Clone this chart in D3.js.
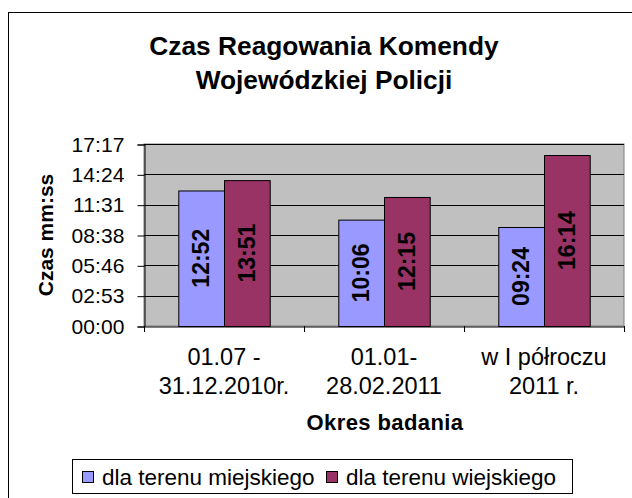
<!DOCTYPE html>
<html>
<head>
<meta charset="utf-8">
<script src="https://cdn.jsdelivr.net/npm/d3@7/dist/d3.min.js"></script>
<style>
  body { margin: 0; background: #fff; }
  text { font-family: "Liberation Sans", Arial, sans-serif; fill: #000; }
</style>
</head>
<body>
<svg id="canvas" width="632" height="498"></svg>
<script>
let titleLines = ['Czas Reagowania Komendy', 'Wojewódzkiej Policji']
let categories = ['01.07 -|31.12.2010r.', '01.01-|28.02.2011', 'w I półroczu|2011 r.']
let seriesNames = ['dla terenu miejskiego', 'dla terenu wiejskiego']
let urbanTimes = ['12:52', '10:06', '09:24']
let ruralTimes = ['13:51', '12:15', '16:14']
// excel stores time as fraction of a day, major unit 0.002
let yTickValues = [0, 0.002, 0.004, 0.006, 0.008, 0.010, 0.012]
let colors = ['#9999ff', '#993366']

let toDays = (s) => {
  let p = s.split(':')
  return (+p[0] * 60 + +p[1]) / 86400
}
let fmt = (d) => {
  let s = Math.round(d * 86400)
  let mm = Math.floor(s / 60), ss = s % 60
  return String(mm).padStart(2, '0') + ':' + String(ss).padStart(2, '0')
}

let rows = categories.map((c, i) => ({
  cat: c,
  values: [urbanTimes[i], ruralTimes[i]]
}))

let svg = d3.select('#canvas')
let plotLeft = 144, plotRight = 624, plotTop = 144, plotBottom = 326

// outer chart border
svg.append('rect')
  .attr('x', 8.5).attr('y', 12.5)
  .attr('width', 700).attr('height', 600)
  .attr('fill', 'none').attr('stroke', '#000')

// title
svg.append('text')
  .attr('x', 324).attr('text-anchor', 'middle')
  .style('font-size', '26.3px').style('font-weight', 'bold')
  .selectAll('tspan')
  .data(titleLines)
  .enter()
  .append('tspan')
  .attr('x', 324)
  .attr('y', (d, i) => 55 + i * 33.5)
  .text(d => d)

let x0 = d3.scaleBand().domain(categories).range([plotLeft, plotRight]).padding(0)
let x1 = d3.scaleBand().domain(seriesNames).range([0, x0.bandwidth()]).paddingInner(0).paddingOuter(0.75)
let y = d3.scaleLinear().domain([0, 0.012]).range([plotBottom, plotTop])

// plot area
svg.append('rect')
  .attr('x', plotLeft).attr('y', plotTop)
  .attr('width', plotRight - plotLeft).attr('height', plotBottom - plotTop)
  .attr('fill', '#c0c0c0').attr('stroke', '#808080')

// gridlines
svg.append('g')
  .selectAll('line')
  .data(yTickValues.slice(1))
  .enter()
  .append('line')
  .attr('x1', plotLeft).attr('x2', plotRight)
  .attr('y1', d => Math.round(y(d)) + 0.5)
  .attr('y2', d => Math.round(y(d)) + 0.5)
  .attr('stroke', '#000')

// y axis
let yAxis = svg.append('g')
  .attr('transform', 'translate(' + (plotLeft + 0.5) + ',0.5)')
  .call(d3.axisLeft(y).tickValues(yTickValues).tickFormat(fmt).tickSize(7).tickPadding(13))
yAxis.select('.domain').attr('stroke', '#000')
yAxis.selectAll('.tick line').attr('stroke', '#000')
yAxis.selectAll('.tick text')
  .style('font-size', '21px').style('font-family', '"Liberation Sans", Arial, sans-serif')
  .attr('fill', '#000').style('letter-spacing', '0.1px')

// x axis
let xAxis = svg.append('g')
  .attr('transform', 'translate(0.5,' + (plotBottom + 0.5) + ')')
  .call(d3.axisBottom(x0).tickSize(0).tickFormat(''))
xAxis.select('.domain').attr('stroke', '#000')
svg.append('g')
  .selectAll('line')
  .data(d3.range(categories.length + 1))
  .enter()
  .append('line')
  .attr('x1', d => plotLeft + d * x0.bandwidth() + 0.5)
  .attr('x2', d => plotLeft + d * x0.bandwidth() + 0.5)
  .attr('y1', plotBottom).attr('y2', plotBottom + 6)
  .attr('stroke', '#000')

// category labels, two lines each
svg.append('g')
  .selectAll('text')
  .data(categories)
  .enter()
  .append('text')
  .attr('text-anchor', 'middle')
  .style('font-size', '23.5px')
  .each(function (d) {
    let cx = x0(d) + x0.bandwidth() / 2
    d3.select(this).selectAll('tspan')
      .data(d.split('|'))
      .enter()
      .append('tspan')
      .attr('x', cx)
      .attr('y', (t, i) => 365 + i * 28.5)
      .text(t => t)
  })

// bars
let groups = svg.append('g')
  .selectAll('g')
  .data(rows)
  .enter()
  .append('g')
  .attr('transform', d => 'translate(' + x0(d.cat) + ',0)')

groups.selectAll('rect')
  .data(d => d.values.map((v, i) => ({ name: seriesNames[i], v: v, i: i })))
  .enter()
  .append('rect')
  .attr('x', d => x1(d.name) + 0.5)
  .attr('y', d => y(toDays(d.v)) + 0.5)
  .attr('width', x1.bandwidth())
  .attr('height', d => plotBottom - y(toDays(d.v)))
  .attr('fill', d => colors[d.i])
  .attr('stroke', '#000')

// data labels, rotated inside bars
groups.selectAll('text')
  .data(d => d.values.map((v, i) => ({ name: seriesNames[i], v: v, i: i })))
  .enter()
  .append('text')
  .attr('transform', d => {
    let cx = x1(d.name) + x1.bandwidth() / 2
    let cy = (y(toDays(d.v)) + plotBottom) / 2
    return 'translate(' + cx + ',' + cy + ') rotate(-90)'
  })
  .attr('text-anchor', 'middle')
  .attr('dy', '0.36em')
  .style('font-size', '23px').style('font-weight', 'bold')
  .text(d => d.v)

// axis titles
svg.append('text')
  .attr('transform', 'translate(53,235) rotate(-90)')
  .attr('text-anchor', 'middle')
  .style('font-size', '21px').style('font-weight', 'bold')
  .text('Czas mm:ss')

svg.append('text')
  .attr('x', 385).attr('y', 430)
  .attr('text-anchor', 'middle')
  .style('font-size', '22px').style('font-weight', 'bold')
  .style('letter-spacing', '0.4px')
  .text('Okres badania')

// legend
let legend = svg.append('g')
legend.append('rect')
  .attr('x', 72.5).attr('y', 459.5)
  .attr('width', 500).attr('height', 34)
  .attr('fill', '#fff').attr('stroke', '#000')

let legendX = [82, 326]
let items = legend.selectAll('g.item')
  .data(seriesNames)
  .enter()
  .append('g')
  .attr('class', 'item')
  .attr('transform', (d, i) => 'translate(' + legendX[i] + ',0)')
items.append('rect')
  .attr('x', 0.5).attr('y', 471.5)
  .attr('width', 11).attr('height', 11)
  .attr('fill', (d, i) => colors[i])
  .attr('stroke', '#000')
items.append('text')
  .attr('x', 20).attr('y', 485)
  .style('font-size', '22.5px')
  .text(d => d)
</script>
</body>
</html>
